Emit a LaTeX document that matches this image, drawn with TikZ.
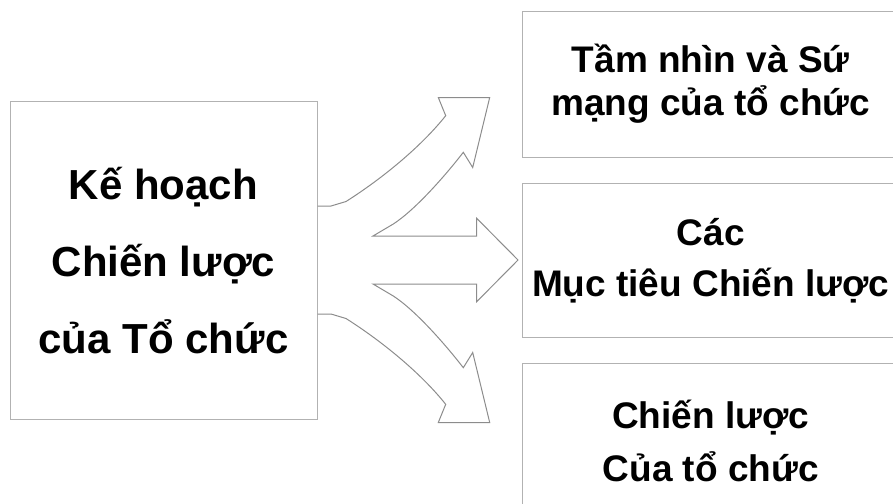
\documentclass[tikz,border=0pt]{standalone}
\usepackage{fontspec}
\setmainfont{Liberation Sans}
\usepackage{tikz}
\usetikzlibrary{positioning}

\tikzset{
	box/.style={draw=gray!60, line width=0.5pt, align=center, inner sep=0pt, minimum width=188pt},
	bigarrow/.style={draw=gray!90, line width=0.5pt, line join=miter},
}

\begin{document}
\begin{tikzpicture}[x=0.5pt, y=-0.5pt]
	\useasboundingbox (0,0) rectangle (893,503);
	\clip (0,0) rectangle (893,503);

	%Plan
	\node (Plan) [box, minimum width=153.5pt, minimum height=158.7pt, font=\bfseries\fontsize{21}{38.5}\selectfont] at (163.5,260.5) {Kế hoạch\\Chiến lược\\của Tổ chức};

	%Goals
	\node (Goals) [box, minimum height=77.35pt, font=\bfseries\fontsize{18.5}{25.5}\selectfont, right=102.35pt of Plan] {Các\\Mục tiêu Chiến lược};

	%Vision
	\node (Vision) [box, minimum height=73pt, font=\bfseries\fontsize{18.5}{21.5}\selectfont, above=12.5pt of Goals] {Tầm nhìn và Sứ\\mạng của tổ chức};

	%Strategy
	\node (Strategy) [box, minimum height=77.5pt, font=\bfseries\fontsize{18.5}{26.5}\selectfont, below=12.5pt of Goals] {Chiến lược\\Của tổ chức};

	%Arrows
	\draw [bigarrow] (Plan.east |- 0,206) -- (331,206) -- (346,201.5)
		.. controls (380,180) and (420,148) .. (445.7,115.7)
		-- (438.3,97.5) -- (489.7,97.5) -- (472.7,167.5) -- (463.3,152.3)
		.. controls (445,176) and (415,210) .. (393.3,224) -- (373,236)
		-- (476.7,236) -- (476.7,218.3) -- (518,260) -- (476.7,301.7) -- (476.7,284) -- (373,284)
		-- (393.3,296) .. controls (415,310) and (445,344) .. (463.3,367.7)
		-- (472.7,352.5) -- (489.7,422.5) -- (438.3,422.5) -- (445.7,404.3)
		.. controls (420,372) and (380,340) .. (346,318.5) -- (331,314) -- (Plan.east |- 0,314);

\end{tikzpicture}
\end{document}
